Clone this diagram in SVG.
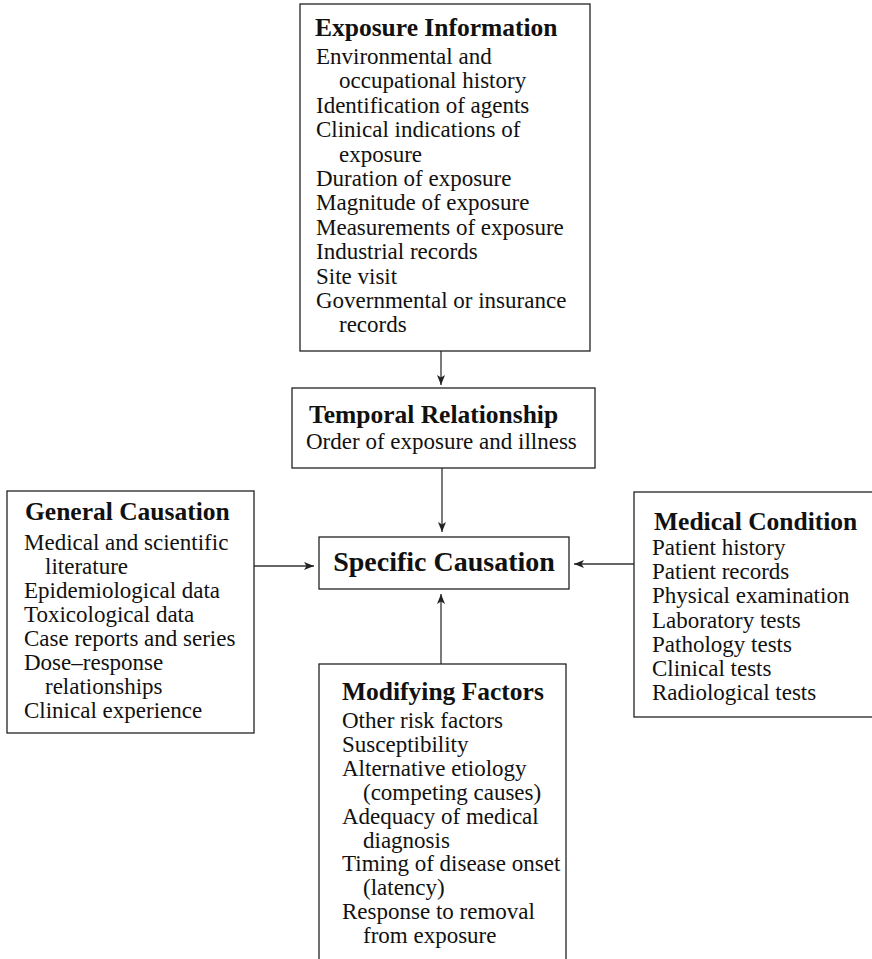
<svg xmlns="http://www.w3.org/2000/svg" width="872" height="959" viewBox="0 0 872 959">
<defs>
<style>
.box{fill:#fff;stroke:#222;stroke-width:1.3}
.t{font-family:"Liberation Serif","Times New Roman",serif;font-weight:bold;font-size:25.5px;fill:#111}
.b{font-family:"Liberation Serif","Times New Roman",serif;font-size:23px;fill:#111}
.c{stroke:#333;stroke-width:1.3;fill:none;marker-end:url(#ah)}
</style>
<marker id="ah" viewBox="0 0 10 8" refX="10" refY="4" markerWidth="10" markerHeight="8" markerUnits="userSpaceOnUse" orient="auto">
<path d="M0,0 L10,4 L0,8 L2.5,4 Z" fill="#222"/>
</marker>
</defs>
<rect width="872" height="959" fill="#fff"/>
<g id="connectors">
<line class="c" x1="441" y1="351" x2="441" y2="385"/>
<line class="c" x1="442" y1="468" x2="442" y2="532"/>
<line class="c" x1="441" y1="664" x2="441" y2="594"/>
<line class="c" x1="254" y1="566" x2="314" y2="566"/>
<line class="c" x1="634" y1="564" x2="574" y2="564"/>
</g>
<g id="exposure">
<rect class="box" x="300" y="4" width="290" height="347"/>
<text class="t" x="315" y="36">Exposure Information</text>
<text class="b" x="316" y="64">Environmental and</text>
<text class="b" x="339" y="88.4">occupational history</text>
<text class="b" x="316" y="112.8">Identification of agents</text>
<text class="b" x="316" y="137.2">Clinical indications of</text>
<text class="b" x="339" y="161.6">exposure</text>
<text class="b" x="316" y="186">Duration of exposure</text>
<text class="b" x="316" y="210.4">Magnitude of exposure</text>
<text class="b" x="316" y="234.8">Measurements of exposure</text>
<text class="b" x="316" y="259.2">Industrial records</text>
<text class="b" x="316" y="283.6">Site visit</text>
<text class="b" x="316" y="308">Governmental or insurance</text>
<text class="b" x="339" y="332.4">records</text>
</g>
<g id="temporal">
<rect class="box" x="292" y="388" width="303" height="80"/>
<text class="t" x="309" y="423">Temporal Relationship</text>
<text class="b" x="306" y="449">Order of exposure and illness</text>
</g>
<g id="specific">
<rect class="box" x="319" y="537" width="250" height="52"/>
<text class="t" x="444" y="571" text-anchor="middle" style="font-size:28px">Specific Causation</text>
</g>
<g id="general">
<rect class="box" x="7" y="491" width="247" height="242"/>
<text class="t" x="25" y="520">General Causation</text>
<text class="b" x="24" y="550">Medical and scientific</text>
<text class="b" x="45" y="574">literature</text>
<text class="b" x="24" y="598">Epidemiological data</text>
<text class="b" x="24" y="622">Toxicological data</text>
<text class="b" x="24" y="646">Case reports and series</text>
<text class="b" x="24" y="670">Dose–response</text>
<text class="b" x="45" y="694">relationships</text>
<text class="b" x="24" y="718">Clinical experience</text>
</g>
<g id="medical">
<rect class="box" x="634" y="492" width="250" height="225"/>
<text class="t" x="654" y="530">Medical Condition</text>
<text class="b" x="652" y="555">Patient history</text>
<text class="b" x="652" y="579.2">Patient records</text>
<text class="b" x="652" y="603.4">Physical examination</text>
<text class="b" x="652" y="627.6">Laboratory tests</text>
<text class="b" x="652" y="651.8">Pathology tests</text>
<text class="b" x="652" y="676">Clinical tests</text>
<text class="b" x="652" y="700.2">Radiological tests</text>
</g>
<g id="modifying">
<rect class="box" x="319" y="664" width="247" height="310"/>
<text class="t" x="342" y="700">Modifying Factors</text>
<text class="b" x="342" y="728">Other risk factors</text>
<text class="b" x="342" y="751.9">Susceptibility</text>
<text class="b" x="342" y="775.8">Alternative etiology</text>
<text class="b" x="363" y="799.7">(competing causes)</text>
<text class="b" x="342" y="823.6">Adequacy of medical</text>
<text class="b" x="363" y="847.5">diagnosis</text>
<text class="b" x="342" y="871.4">Timing of disease onset</text>
<text class="b" x="363" y="895.3">(latency)</text>
<text class="b" x="342" y="919.2">Response to removal</text>
<text class="b" x="363" y="943.1">from exposure</text>
</g>
</svg>
